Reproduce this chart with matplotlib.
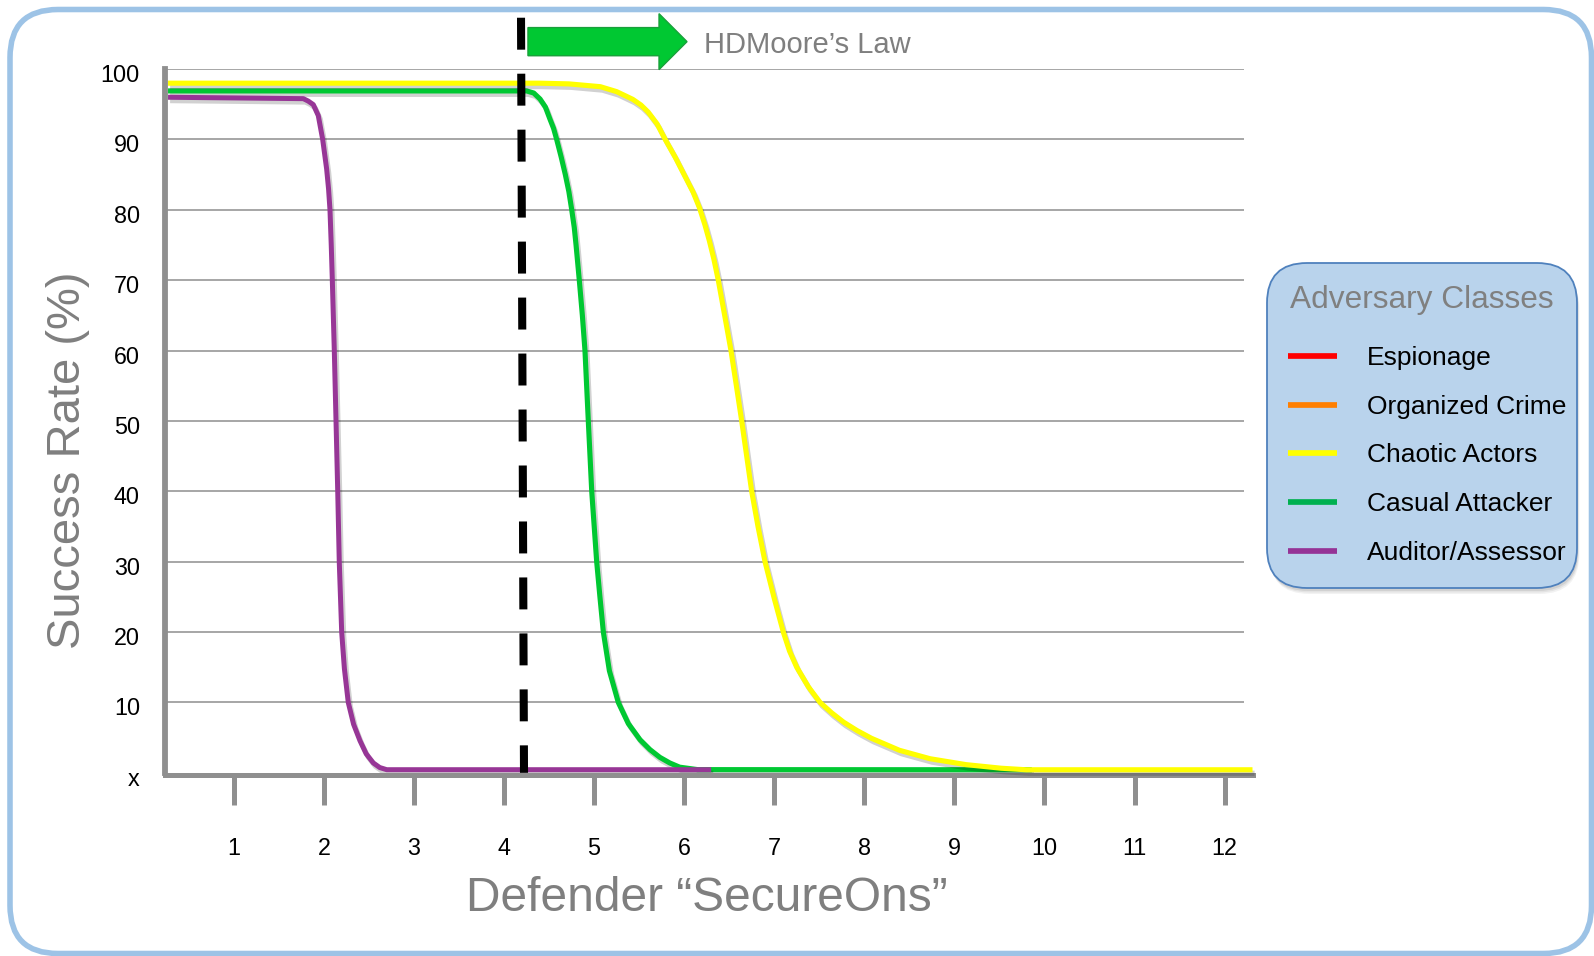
import matplotlib
matplotlib.use('Agg')
import matplotlib.pyplot as plt
from matplotlib.patches import FancyBboxPatch, Polygon
from matplotlib.lines import Line2D
from matplotlib.transforms import Affine2D, ScaledTranslation
import matplotlib.patheffects as pe

plt.rcParams['font.family'] = ['Liberation Sans', 'DejaVu Sans']
plt.rcParams['lines.scale_dashes'] = False

W, H, DPI = 1594, 956, 100

# ---------------- data ----------------
x_ticks = list(range(1, 13))
x_tick_labels = [str(v) for v in x_ticks]
y_ticks = [0, 10, 20, 30, 40, 50, 60, 70, 80, 90, 100]
y_tick_labels = ['x', '10', '20', '30', '40', '50', '60', '70', '80', '90', '100']
grid_levels = [10, 20, 30, 40, 50, 60, 70, 80, 90, 100]

auditor_x = [0.27, 1.772, 1.827, 1.883, 1.938, 1.987, 2.031, 2.052, 2.068, 2.082, 2.094,
             2.116, 2.135, 2.154, 2.171, 2.198, 2.228, 2.271, 2.33, 2.401, 2.47, 2.549,
             2.62, 2.698, 6.30]
auditor_y = [96.0, 95.8, 95.45, 94.95, 93.4, 90.0, 85.8, 83.0, 80.0, 75.0, 70.0,
             60.0, 50.0, 40.0, 30.0, 20.0, 14.8, 10.0, 6.9, 4.56, 2.7, 1.4,
             0.75, 0.44, 0.44]

casual_x = [0.27, 4.25, 4.33, 4.40, 4.46, 4.51, 4.55, 4.585, 4.635, 4.681, 4.72, 4.752,
            4.78, 4.80, 4.836, 4.87, 4.899, 4.936, 4.974, 5.029, 5.065, 5.103, 5.17,
            5.269, 5.38, 5.51, 5.62, 5.73, 5.84, 5.95, 6.15, 9.86]
casual_y = [96.9, 96.9, 96.6, 95.75, 94.6, 92.9, 91.6, 90.0, 87.5, 85.0, 82.6, 80.0,
            77.5, 75.0, 70.0, 65.0, 60.0, 50.0, 40.0, 30.0, 25.0, 20.0, 14.5,
            10.0, 7.0, 4.7, 3.3, 2.2, 1.4, 0.8, 0.45, 0.43]

chaotic_x = [0.27, 4.39, 4.72, 5.07, 5.25, 5.43, 5.52, 5.60, 5.70, 5.79, 5.90, 6.00,
             6.10, 6.17, 6.23, 6.28, 6.33, 6.379, 6.45, 6.52, 6.58, 6.639, 6.75, 6.82,
             6.898, 7.00, 7.101, 7.17, 7.25, 7.38, 7.509, 7.64, 7.77, 7.92, 8.08, 8.39,
             8.73, 9.13, 9.52, 9.80, 12.31]
chaotic_y = [98.0, 98.0, 97.9, 97.5, 96.8, 95.7, 94.9, 93.9, 92.2, 90.0, 87.5, 85.0,
             82.5, 80.3, 77.9, 75.6, 73.0, 70.0, 65.0, 60.0, 55.0, 50.0, 40.0, 35.0,
             30.0, 24.8, 20.0, 17.3, 15.0, 12.2, 10.0, 8.5, 7.2, 6.0, 4.9, 3.2,
             2.0, 1.16, 0.65, 0.43, 0.43]

hdmoore_x = [4.189, 4.222]
hdmoore_y = [107.3, 0.0]

legend_labels = ['Espionage', 'Organized Crime', 'Chaotic Actors', 'Casual Attacker', 'Auditor/Assessor']
legend_colors = ['#FF0000', '#FF7F00', '#FFFF00', '#00B050', '#953396']

curve_green = '#00C832'
curve_yellow = '#FFFF00'
curve_purple = '#973696'

# ---------------- figure ----------------
fig = plt.figure(figsize=(W / DPI, H / DPI), dpi=DPI)
fig.patch.set_facecolor('white')
tpx = Affine2D().scale(1, -1).translate(0, H)  # top-left pixel coordinates

ax_left, ax_right, ax_top, ax_bot = 164.7, 1252.5, 69.1, 772.8
ax = fig.add_axes([ax_left / W, 1 - ax_bot / H, (ax_right - ax_left) / W, (ax_bot - ax_top) / H])
ax.set_xlim(0.233, 12.31)
ax.set_ylim(0, 100)
ax.patch.set_alpha(0)

for s in ['top', 'right']:
    ax.spines[s].set_visible(False)
ax.spines['left'].set_color('#8F8F8F')
ax.spines['left'].set_linewidth(4.2)
ax.spines['bottom'].set_color('#8F8F8F')
ax.spines['bottom'].set_linewidth(3.6)
ax.spines['bottom'].set_position(('outward', 1.6))

# gridlines
ax.hlines(grid_levels, 0.233, 12.216, colors='#A6A6A6', linewidth=1.4, zorder=1)

# ticks
ax.set_xticks(x_ticks, x_tick_labels)
ax.set_yticks(y_ticks, y_tick_labels)
ax.tick_params(axis='x', length=21.5, width=3.6, color='#8F8F8F', direction='out',
               pad=23, labelsize=16.8, labelcolor='black')
ax.tick_params(axis='y', length=0, pad=17.8, labelsize=16.8, labelcolor='black')
for lab in ax.get_yticklabels():
    lab.set_transform(lab.get_transform() + ScaledTranslation(0, -4 / DPI, fig.dpi_scale_trans))

shadow = [pe.SimpleLineShadow(offset=(1.5, -2.5), shadow_color='#000000', alpha=0.18), pe.Normal()]

ax.plot(casual_x, casual_y, color=curve_green, lw=3.7, solid_capstyle='butt',
        solid_joinstyle='round', zorder=3, path_effects=shadow)
ax.plot(auditor_x, auditor_y, color=curve_purple, lw=3.6, solid_capstyle='butt',
        solid_joinstyle='round', zorder=4, path_effects=shadow)
ax.plot(chaotic_x, chaotic_y, color=curve_yellow, lw=3.7, solid_capstyle='butt',
        solid_joinstyle='round', zorder=4, path_effects=shadow, clip_on=False)

# HDMoore dashed line
ax.plot(hdmoore_x, hdmoore_y, color='black', lw=5.8, linestyle=(0, (23, 17.3)),
        dash_capstyle='butt', zorder=6, clip_on=False)

# green block arrow
arrow_x0, arrow_xh, arrow_xt = 4.266, 5.721, 6.032
arrow_yc, arrow_body, arrow_head = 103.9, 2.0, 3.98
arrow_pts = [(arrow_x0, arrow_yc - arrow_body), (arrow_xh, arrow_yc - arrow_body),
             (arrow_xh, arrow_yc - arrow_head), (arrow_xt, arrow_yc),
             (arrow_xh, arrow_yc + arrow_head), (arrow_xh, arrow_yc + arrow_body),
             (arrow_x0, arrow_yc + arrow_body)]
ax.add_patch(Polygon(arrow_pts, closed=True, facecolor='#00C832', edgecolor='#19A03A',
                     linewidth=1.0, clip_on=False, zorder=5))

fig.text(704, 53, 'HDMoore\u2019s Law', transform=tpx, ha='left', va='baseline',
         fontsize=21, color='#7F7F7F')

# axis titles
fig.text(707, 911, 'Defender \u201cSecureOns\u201d', transform=tpx, ha='center', va='baseline',
         fontsize=34.5, color='#7F7F7F')
fig.text(68.5, 460, 'Success Rate (%)', transform=tpx, ha='center', va='center',
         rotation=90, fontsize=34, color='#7F7F7F')

# outer rounded frame
fig.add_artist(FancyBboxPatch((10, 9.5), 1581.5, 944, boxstyle='round,pad=0,rounding_size=48',
                              transform=tpx, fill=False, edgecolor='#9DC3E6', linewidth=4.0))

# legend box
lx, ly, lw_, lh = 1267, 263, 310, 325
for i, a in enumerate([0.05, 0.06, 0.08]):
    off = 6 - i * 1.5
    fig.add_artist(FancyBboxPatch((lx + off * 0.4, ly + off), lw_, lh,
                                  boxstyle='round,pad=0,rounding_size=40', transform=tpx,
                                  facecolor='black', edgecolor='none', alpha=a))
fig.add_artist(FancyBboxPatch((lx, ly), lw_, lh, boxstyle='round,pad=0,rounding_size=40',
                              transform=tpx, facecolor='#B9D3EC', edgecolor='#4F81BD',
                              linewidth=1.3))
fig.text(1422, 308, 'Adversary Classes', transform=tpx, ha='center', va='baseline',
         fontsize=22.8, color='#808080')
row_y0, row_dy = 356, 48.7
for i, (lab, col) in enumerate(zip(legend_labels, legend_colors)):
    yy = row_y0 + i * row_dy
    fig.add_artist(Line2D([1288, 1337], [yy, yy], transform=tpx, color=col, linewidth=4.1,
                          solid_capstyle='butt'))
    fig.text(1367, yy + 9, lab, transform=tpx, ha='left', va='baseline', fontsize=19,
             color='black')

fig.savefig('out.png', dpi=DPI, facecolor='white')
